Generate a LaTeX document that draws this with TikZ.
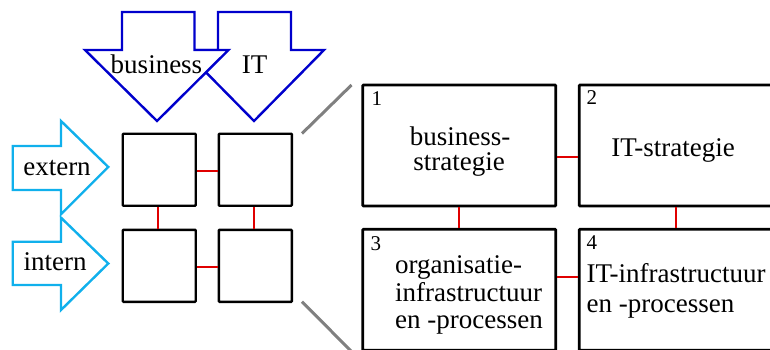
\documentclass[tikz,border=0pt]{standalone}
\usepackage{fontspec}
\setmainfont{Liberation Serif}
\definecolor{arrblue}{HTML}{0000CC}
\definecolor{arrcyan}{HTML}{10B0EC}
\definecolor{linkred}{HTML}{E00000}
\definecolor{zoomgray}{HTML}{808080}
\begin{document}
\begin{tikzpicture}[x=1pt,y=-1pt,
  smallbox/.style={draw=black, line width=2.4pt, minimum width=73pt, minimum height=72pt, inner sep=0pt, fill=white, rounded corners=0.8pt},
  bigbox/.style={draw=black, line width=2.8pt, minimum width=193pt, minimum height=121pt, inner sep=0pt, fill=white, rounded corners=0.8pt},
  link/.style={draw=linkred, line width=2.2pt},
  zoomline/.style={draw=zoomgray, line width=3pt},
  downarrow/.style={draw=arrblue, line width=2.4pt, fill=white, line join=miter},
  rightarrow/.style={draw=arrcyan, line width=2.4pt, fill=white, line join=miter},
  txt/.style={font=\fontsize{27}{27}\selectfont, inner sep=0pt, anchor=base},
  txtl/.style={font=\fontsize{27}{27}\selectfont, inner sep=0pt, anchor=base west},
  num/.style={font=\fontsize{21}{21}\selectfont, inner sep=0pt, anchor=base west}]
\useasboundingbox (0,0) rectangle (770,350);
\clip (0,0) rectangle (770,350);

% down arrows (IT first, business on top)
\draw[downarrow] (218,12) -- (291,12) -- (291,50) -- (324,50) -- (254,121) -- (184,50) -- (218,50) -- cycle;
\draw[downarrow] (122,12) -- (194.5,12) -- (194.5,50) -- (228.5,50) -- (157,121) -- (85,50) -- (122,50) -- cycle;
\node[txt] (lbiz) at (156.5,74) {business};
\node[txt] (lit) at (254.5,74) {IT};

% right arrows
\draw[rightarrow] (12.7,146) -- (61,146) -- (61,121) -- (108.3,167) -- (61,214.3) -- (61,190) -- (12.7,190) -- cycle;
\draw[rightarrow] (12.7,241.7) -- (61,241.7) -- (61,217.7) -- (108.3,263.5) -- (61,310) -- (61,285) -- (12.7,285) -- cycle;
\node[txt] (lext) at (57,175) {extern};
\node[txt] (lint) at (55,270) {intern};

% small grid
\node[smallbox] (s1) at (159.2,169.7) {};
\node[smallbox] (s2) at (255.3,169.7) {};
\node[smallbox] (s3) at (159.2,265.8) {};
\node[smallbox] (s4) at (255.3,265.8) {};
\coordinate (sh1) at (0,171);
\coordinate (sh2) at (0,266.7);
\coordinate (sv1) at (157.7,0);
\coordinate (sv2) at (254,0);
\draw[link] (s1.east |- sh1) -- (s2.west |- sh1);
\draw[link] (s3.east |- sh2) -- (s4.west |- sh2);
\draw[link] (sv1 |- s1.south) -- (sv1 |- s3.north);
\draw[link] (sv2 |- s2.south) -- (sv2 |- s4.north);

% zoom lines
\coordinate (za) at (302,133.5);
\coordinate (zb) at (351.5,85);
\coordinate (zc) at (302,301.7);
\coordinate (zd) at (352,352);
\draw[zoomline] (za) -- (zb);
\draw[zoomline] (zc) -- (zd);

% big grid
\node[bigbox] (b1) at (459.2,145.5) {};
\node[bigbox] (b2) at (675.8,145.5) {};
\node[bigbox] (b3) at (459.2,289.8) {};
\node[bigbox] (b4) at (675.8,289.8) {};
\coordinate (bh1) at (0,157.3);
\coordinate (bh2) at (0,277.3);
\draw[link] (b1.east |- bh1) -- (b2.west |- bh1);
\draw[link] (b3.east |- bh2) -- (b4.west |- bh2);
\draw[link] (b1.south) -- (b3.north);
\draw[link] (b2.south) -- (b4.north);

% numbers
\node[num] (n1) at (371.5,106) {1};
\node[num] (n2) at (586.5,105) {2};
\node[num] (n3) at (370.5,250) {3};
\node[num] (n4) at (586.5,249.3) {4};

% box texts
\node[txt] (t1a) at (460,145) {business-};
\node[txt] (t1b) at (459,170) {strategie};
\node[txt] (t2) at (673,156.7) {IT-strategie};
\node[txtl] (t3a) at (395,273) {organisatie-};
\node[txtl] (t3b) at (395,301) {infrastructuur};
\node[txtl] (t3c) at (395,328) {en -processen};
\node[txtl] (t4a) at (586.5,282) {IT-infrastructuur};
\node[txtl] (t4b) at (586.5,312) {en -processen};
\end{tikzpicture}
\end{document}
